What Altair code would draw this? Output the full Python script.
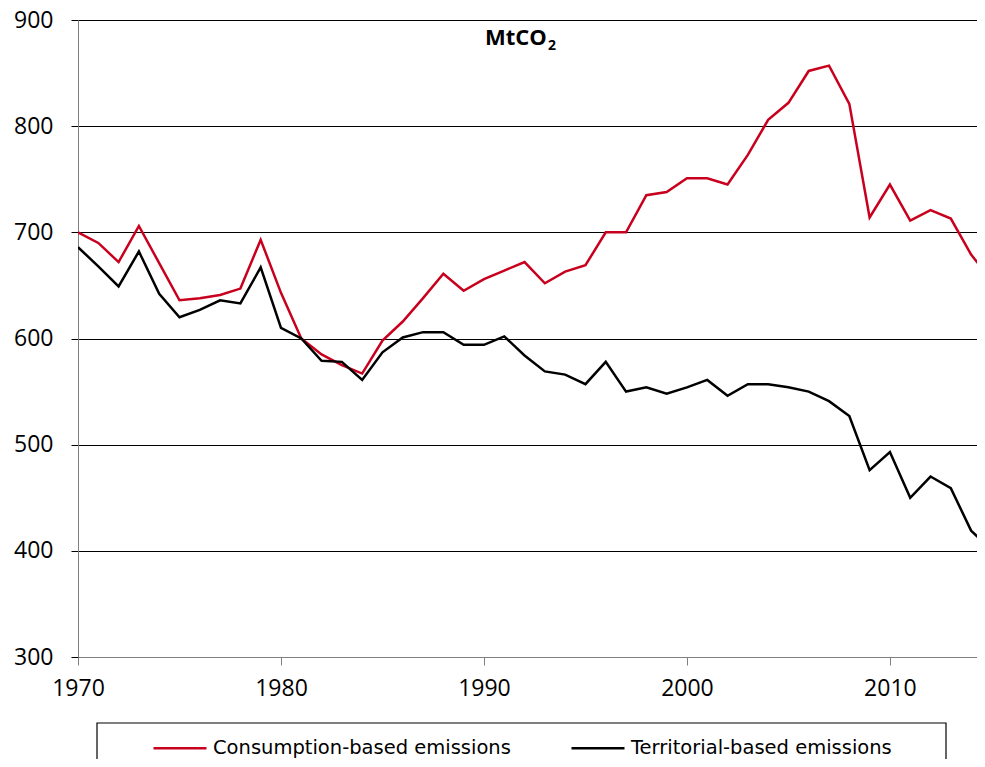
import altair as alt
import pandas as pd

years = list(range(1970, 2016))
consumption = [700, 690, 672, 706, 671, 636, 638, 641, 647, 693,
               643, 600, 585, 575, 567, 598, 616, 638, 661, 645,
               656, 664, 672, 652, 663, 669, 700, 700, 735, 738,
               751, 751, 745, 773, 806, 822, 852, 857, 821, 714,
               745, 711, 721, 713, 679, 655]
territorial = [686, 668, 649, 682, 642, 620, 627, 636, 633, 667,
               610, 600, 579, 578, 561, 587, 601, 606, 606, 594,
               594, 602, 584, 569, 566, 557, 578, 550, 554, 548,
               554, 561, 546, 557, 557, 554, 550, 541, 527, 476,
               493, 450, 470, 459, 419, 401]
series_names = ["Consumption-based emissions", "Territorial-based emissions"]
series_colors = ["#c8001e", "#000000"]
y_ticks = [300, 400, 500, 600, 700, 800, 900]
x_ticks = [1970, 1980, 1990, 2000, 2010]

rows = []
for i, yr in enumerate(years):
    rows.append({"year": yr, "value": consumption[i], "series": series_names[0]})
    rows.append({"year": yr, "value": territorial[i], "series": series_names[1]})
df = pd.DataFrame(rows)

FONT = "Open Sans"

lines = alt.Chart(df).mark_line(strokeWidth=2.5, clip=True).encode(
    x=alt.X("year:Q",
            scale=alt.Scale(domain=[1970, 2014.29], nice=False, zero=False),
            axis=alt.Axis(values=x_ticks, format="d", title=None, grid=False,
                          tickSize=8, tickColor="#808080", domainColor="#808080",
                          labelFontSize=23, labelPadding=12, labelColor="#000000",
                          labelFont=FONT, labelFlush=False)),
    y=alt.Y("value:Q",
            scale=alt.Scale(domain=[300, 900], nice=False, zero=False),
            axis=alt.Axis(values=y_ticks, title=None, grid=True, gridColor="#000000",
                          gridWidth=1.2, tickSize=7, tickColor="#000000",
                          domainColor="#808080", labelFontSize=23, labelPadding=18,
                          labelColor="#000000", labelFont=FONT, labelFlush=False)),
    color=alt.Color("series:N",
                    scale=alt.Scale(domain=series_names, range=series_colors),
                    legend=alt.Legend(title=None, orient="none", legendX=74, legendY=700,
                                      direction="horizontal", symbolType="stroke",
                                      symbolSize=2809, symbolStrokeWidth=2.5,
                                      labelFontSize=19.5, labelFont="DejaVu Sans",
                                      labelColor="#000000",
                                      labelLimit=500, labelOffset=5, columnPadding=55,
                                      padding=0)),
)

box_df = pd.DataFrame({"k": [0]})
box = alt.Chart(box_df).mark_rect(fill="white", fillOpacity=0, stroke="#000000",
                                  strokeWidth=1.2).encode(
    x=alt.value(19), x2=alt.value(868), y=alt.value(703), y2=alt.value(760))

title_df = pd.DataFrame({"t": ["MtCO"], "s": ["2"]})
title_main = alt.Chart(title_df).mark_text(font=FONT, fontSize=22, fontWeight="bold",
                                           align="left", baseline="alphabetic",
                                           color="#000000").encode(
    x=alt.value(407), y=alt.value(25), text="t:N")
title_sub = alt.Chart(title_df).mark_text(font=FONT, fontSize=14, fontWeight="bold",
                                          align="left", baseline="alphabetic",
                                          color="#000000").encode(
    x=alt.value(470), y=alt.value(30), text="s:N")

chart = alt.layer(box, lines, title_main, title_sub).properties(
    width=899, height=637,
    autosize=alt.AutoSizeParams(type="none"),
    padding={"left": 70, "top": 12, "right": 0, "bottom": 102},
).configure_view(strokeWidth=0).configure(background="white")

chart.save("out.html", embed_options={"renderer": "svg", "actions": False})
